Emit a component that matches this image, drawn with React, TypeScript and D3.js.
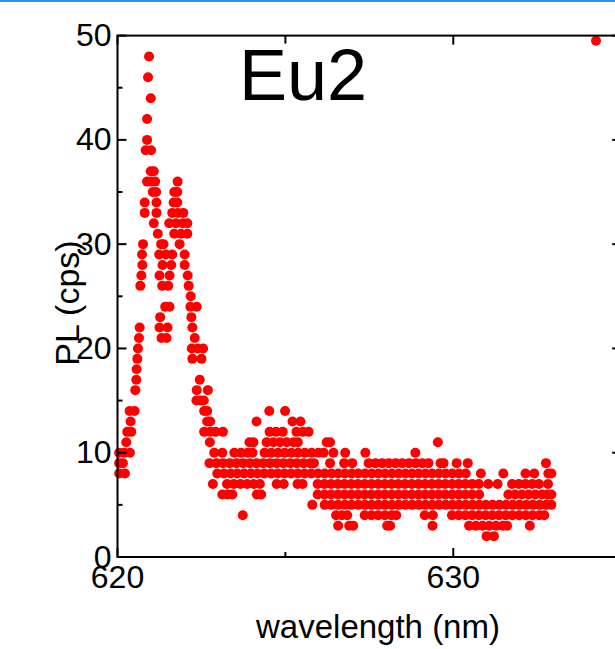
import React from 'react';
import * as d3 from 'd3';

const W = 615;
const H = 649;

const xMajorTicks = [620, 630];
const xMinorTicks = [625];
const yMajorTicks = [0, 10, 20, 30, 40, 50];
const yMinorTicks = [5, 15, 25, 35, 45];

// wavelengths (nm) of the dots found at each PL count level (cps)
const at2 = [630.99, 631.21];
const at3 = [626.57, 626.9, 627.02, 628.03, 628.12, 629.38, 630.47, 630.67, 630.87, 631.07, 631.27, 631.47, 631.6, 632.28];
const at4 = [623.73, 626.51, 626.68, 626.84, 627.36, 627.56, 627.76, 627.96, 628.16, 628.3, 629.15, 629.39, 629.96, 630.16, 630.36, 630.56, 630.76, 630.96, 631.16, 631.36, 631.56, 631.76, 631.96, 632.16, 632.36, 632.56, 632.71];
const at5 = [625.8, 626.17, 626.37, 626.57, 626.77, 626.97, 627.17, 627.37, 627.57, 627.77, 627.97, 628.17, 628.37, 628.57, 628.77, 628.97, 629.17, 629.37, 629.57, 629.77, 629.97, 630.17, 630.37, 630.57, 630.77, 630.97, 631.17, 631.37, 631.57, 631.77, 631.97, 632.17, 632.37, 632.57, 632.77, 632.92];
const at6 = [623.12, 623.28, 623.42, 624.15, 624.28, 625.96, 626.16, 626.36, 626.56, 626.76, 626.96, 627.16, 627.36, 627.56, 627.76, 627.96, 628.16, 628.36, 628.56, 628.76, 628.96, 629.16, 629.36, 629.56, 629.76, 629.96, 630.16, 630.36, 630.56, 630.77, 631.64, 631.84, 632.04, 632.24, 632.44, 632.64, 632.8, 632.92];
const at7 = [622.84, 623.26, 623.46, 623.66, 623.86, 624.06, 624.24, 624.74, 624.95, 625.36, 625.51, 625.96, 626.16, 626.36, 626.56, 626.76, 626.96, 627.16, 627.36, 627.56, 627.76, 627.96, 628.16, 628.36, 628.56, 628.76, 628.96, 629.16, 629.36, 629.56, 629.76, 629.96, 630.16, 630.36, 630.56, 630.76, 631.04, 631.32, 631.75, 631.95, 632.15, 632.35, 632.55, 632.82];
const at8 = [620.05, 620.22, 622.97, 623.17, 623.37, 623.57, 623.77, 623.97, 624.17, 624.37, 624.57, 624.77, 624.97, 625.17, 625.37, 625.57, 625.77, 625.97, 626.17, 626.37, 626.57, 626.77, 626.97, 627.17, 627.37, 627.57, 627.77, 627.97, 628.17, 628.37, 628.57, 628.77, 628.97, 629.17, 629.37, 629.57, 629.77, 629.97, 630.17, 630.37, 630.82, 631.49, 632.15, 632.41, 632.83, 632.92];
const at9 = [620.05, 620.16, 622.74, 622.94, 623.14, 623.34, 623.54, 623.74, 623.94, 624.14, 624.34, 624.54, 624.74, 624.94, 625.14, 625.34, 625.54, 625.74, 625.85, 626.33, 626.75, 626.99, 627.48, 627.68, 627.88, 628.08, 628.28, 628.48, 628.68, 628.88, 629.08, 629.26, 629.62, 629.71, 630.1, 630.43, 632.76];
const at10 = [620.05, 620.2, 620.37, 622.88, 623.12, 623.48, 623.68, 623.88, 624.02, 624.38, 624.58, 624.78, 624.98, 625.18, 625.38, 625.58, 625.78, 625.98, 626.14, 626.43, 626.78, 627.38, 628.87];
const at11 = [620.26, 622.75, 623.93, 624.05, 624.44, 624.64, 624.84, 625.04, 625.24, 625.37, 626.23, 626.33, 629.54];
const at12 = [620.29, 620.41, 622.58, 622.76, 622.92, 623.14, 624.53, 624.72, 624.92, 625.33, 625.52, 625.69];
const at13 = [620.39, 622.67, 622.76, 624.14, 625.21, 625.45];
const at14 = [620.36, 620.51, 622.58, 622.67, 624.52, 624.99];
const at15 = [622.35, 622.47, 622.57];
const at16 = [620.53, 622.36, 622.69];
const at17 = [620.56, 622.45];
const at18 = [620.57];
const at19 = [620.59, 622.23, 622.5];
const at20 = [620.61, 622.21, 622.39, 622.55];
const at21 = [620.64, 621.31, 621.46, 622.3];
const at22 = [620.66, 621.25, 621.49, 622.23];
const at23 = [621.27, 622.2];
const at24 = [621.42, 621.55, 622.17, 622.36];
const at25 = [622.18];
const at26 = [620.68, 621.33, 621.51, 622.12];
const at27 = [620.71, 621.25, 621.55, 622.09];
const at28 = [620.74, 621.34, 621.6, 622.0];
const at29 = [620.73, 621.24, 621.44, 621.63, 622.0];
const at30 = [620.76, 621.3, 621.37, 621.85];
const at31 = [621.2, 621.69, 621.89, 622.08];
const at32 = [621.08, 621.54, 621.74, 621.94, 622.08];
const at33 = [620.81, 621.16, 621.63, 621.8, 621.96];
const at34 = [620.81, 621.16, 621.67, 621.78];
const at35 = [621.05, 621.15, 621.69, 621.78];
const at36 = [620.88, 621.0, 621.12, 621.79];
const at37 = [620.99, 621.08];
const at39 = [620.84, 621.0];
const at40 = [620.88];
const at42 = [620.88];
const at44 = [620.99];
const at46 = [620.91];
const at48 = [620.94];
const strayPoint = [634.25, 49.5];

const levels: [number, number[]][] = [
  [2, at2], [3, at3], [4, at4], [5, at5], [6, at6], [7, at7], [8, at8], [9, at9],
  [10, at10], [11, at11], [12, at12], [13, at13], [14, at14], [15, at15], [16, at16],
  [17, at17], [18, at18], [19, at19], [20, at20], [21, at21], [22, at22], [23, at23],
  [24, at24], [25, at25], [26, at26], [27, at27], [28, at28], [29, at29], [30, at30],
  [31, at31], [32, at32], [33, at33], [34, at34], [35, at35], [36, at36], [37, at37],
  [39, at39], [40, at40], [42, at42], [44, at44], [46, at46], [48, at48],
];

const FONT = '"Liberation Sans", Arial, Helvetica, sans-serif';

export default function App() {
  const x = d3.scaleLinear().domain([620, 635]).range([117.5, 621.2]);
  const y = d3.scaleLinear().domain([0, 50]).range([557, 35.6]);
  const [x0, x1] = x.range();
  const [y0, y1] = y.range();

  const points: [number, number][] = levels.flatMap(([v, xs]) => xs.map((w) => [w, v] as [number, number]));
  points.push([strayPoint[0], strayPoint[1]]);

  const major = 9;
  const minor = 5;

  return (
    <svg width={W} height={H} style={{ position: 'absolute', left: 0, top: 0, background: '#fff' }}>
      <rect x={0} y={0} width={W} height={2} fill="#2f8ff2" />
      {points.map(([w, v], i) => (
        <circle key={i} cx={x(w)} cy={y(v)} r={5} fill="#ff0000" />
      ))}
      <g stroke="#000" strokeWidth={2} fill="none">
        <rect x={x0} y={y1} width={x1 - x0} height={y0 - y1} />
        {xMajorTicks.map((t) => (
          <g key={'xm' + t}>
            <line x1={x(t)} x2={x(t)} y1={y0} y2={y0 - major} />
            <line x1={x(t)} x2={x(t)} y1={y1} y2={y1 + major} />
          </g>
        ))}
        {xMinorTicks.map((t) => (
          <g key={'xn' + t}>
            <line x1={x(t)} x2={x(t)} y1={y0} y2={y0 - minor} />
            <line x1={x(t)} x2={x(t)} y1={y1} y2={y1 + major - 1} />
          </g>
        ))}
        {yMajorTicks.map((t) => (
          <g key={'ym' + t}>
            <line x1={x0} x2={x0 + major} y1={y(t)} y2={y(t)} />
            <line x1={x1} x2={x1 - major} y1={y(t)} y2={y(t)} />
          </g>
        ))}
        {yMinorTicks.map((t) => (
          <g key={'yn' + t}>
            <line x1={x0} x2={x0 + minor} y1={y(t)} y2={y(t)} />
            <line x1={x1} x2={x1 - minor} y1={y(t)} y2={y(t)} />
          </g>
        ))}
      </g>
      <g fontFamily={FONT} fontSize={32} fill="#000">
        {yMajorTicks.map((t) => (
          <text key={'yl' + t} x={x0 - 6} y={y(t) + 10.5} textAnchor="end">
            {t}
          </text>
        ))}
        {xMajorTicks.map((t) => (
          <text key={'xl' + t} x={x(t)} y={588} textAnchor="middle">
            {t}
          </text>
        ))}
      </g>
      <text x={378} y={638} textAnchor="middle" fontFamily={FONT} fontSize={33}>
        wavelength (nm)
      </text>
      <text
        transform={`translate(79, 303) rotate(-90)`}
        textAnchor="middle"
        fontFamily={FONT}
        fontSize={34}
      >
        PL (cps)
      </text>
      <text x={239} y={100} fontFamily={FONT} fontSize={72}>
        Eu2
      </text>
    </svg>
  );
}
